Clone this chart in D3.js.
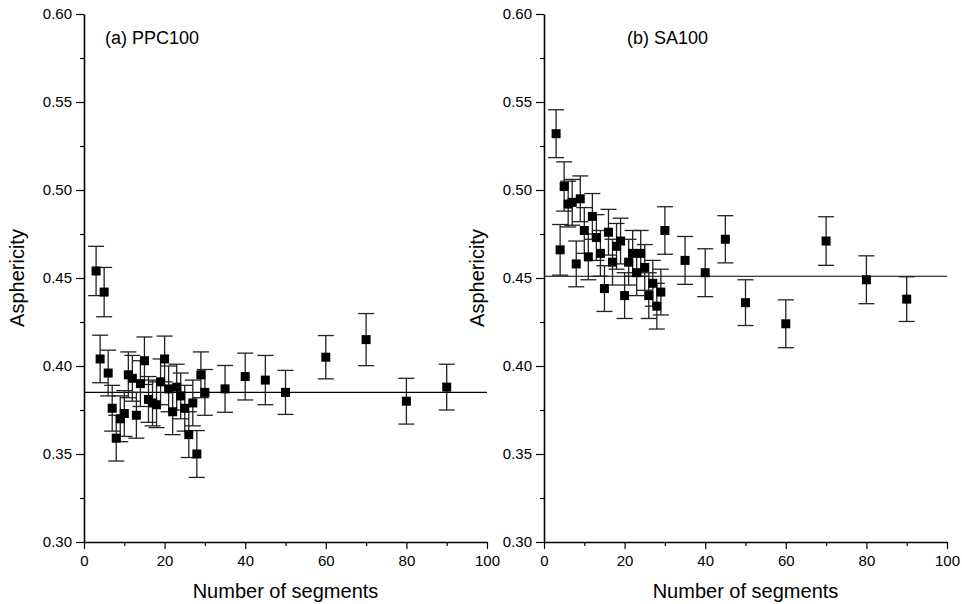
<!DOCTYPE html>
<html>
<head>
<meta charset="utf-8">
<script src="https://cdn.jsdelivr.net/npm/d3@7"></script>
<style>
  body { margin: 0; background: #fff; }
  svg { display: block; font-family: "Liberation Sans", Arial, sans-serif; }
</style>
</head>
<body>
<svg id="chart" width="962" height="604"></svg>
<script>
// Panel (a) PPC100
const segA = [3, 4, 5, 6, 7, 8, 9, 10, 11, 12, 13, 14, 15, 16, 17, 18, 19, 20, 21, 22, 23, 24, 25, 26, 27, 28, 29, 30, 35, 40, 45, 50, 60, 70, 80, 90];
const aspA = [0.454, 0.404, 0.442, 0.396, 0.376, 0.359, 0.370, 0.373, 0.395, 0.393, 0.372, 0.390, 0.403, 0.381, 0.379, 0.378, 0.391, 0.404, 0.387, 0.374, 0.388, 0.383, 0.376, 0.361, 0.379, 0.350, 0.395, 0.385, 0.387, 0.394, 0.392, 0.385, 0.405, 0.415, 0.380, 0.388];
const errA = [0.014, 0.0135, 0.014, 0.013, 0.013, 0.013, 0.013, 0.013, 0.013, 0.013, 0.013, 0.013, 0.0135, 0.013, 0.013, 0.013, 0.013, 0.013, 0.013, 0.013, 0.013, 0.013, 0.013, 0.013, 0.013, 0.0133, 0.013, 0.013, 0.0133, 0.0133, 0.014, 0.0125, 0.0123, 0.0148, 0.013, 0.013];
const meanA = 0.385;

// Panel (b) SA100
const segB = [3, 4, 5, 6, 7, 8, 9, 10, 11, 12, 13, 14, 15, 16, 17, 18, 19, 20, 21, 22, 23, 24, 25, 26, 27, 28, 29, 30, 35, 40, 45, 50, 60, 70, 80, 90];
const aspB = [0.532, 0.466, 0.502, 0.492, 0.493, 0.458, 0.495, 0.477, 0.462, 0.485, 0.473, 0.464, 0.444, 0.476, 0.459, 0.468, 0.471, 0.440, 0.459, 0.464, 0.453, 0.464, 0.456, 0.440, 0.447, 0.434, 0.442, 0.477, 0.460, 0.453, 0.472, 0.436, 0.424, 0.471, 0.449, 0.438];
const errB = [0.0136, 0.0144, 0.014, 0.013, 0.013, 0.013, 0.013, 0.013, 0.013, 0.013, 0.013, 0.013, 0.013, 0.013, 0.013, 0.013, 0.013, 0.013, 0.013, 0.013, 0.013, 0.013, 0.013, 0.013, 0.013, 0.013, 0.013, 0.0135, 0.0136, 0.0136, 0.0134, 0.013, 0.0136, 0.0138, 0.0136, 0.0127];
const meanB = 0.451;

const xTicks = [0, 20, 40, 60, 80, 100];
const yTicks = [0.30, 0.35, 0.40, 0.45, 0.50, 0.55, 0.60];

const svg = d3.select("#chart");
const plotTop = 14, plotBottom = 542;

const panels = [
  { x0: 84, x1: 487, seg: segA, asp: aspA, err: errA, mean: meanA, label: "(a) PPC100", labelX: 105, titleX: 24 },
  { x0: 544, x1: 947, seg: segB, asp: aspB, err: errB, mean: meanB, label: "(b) SA100", labelX: 627, titleX: 484 }
];

panels.forEach(p => {
  const x = d3.scaleLinear().domain([0, 100]).range([p.x0, p.x1]);
  const y = d3.scaleLinear().domain([0.30, 0.60]).range([plotBottom, plotTop]);
  const g = svg.append("g");

  // minor ticks
  g.append("g").attr("transform", `translate(0,${plotBottom})`)
    .call(d3.axisBottom(x).tickValues(d3.range(10, 100, 20)).tickSize(4).tickFormat(""))
    .call(a => a.select(".domain").remove());
  g.append("g").attr("transform", `translate(${p.x0},0)`)
    .call(d3.axisLeft(y).tickValues(d3.range(0.325, 0.6, 0.05)).tickSize(4).tickFormat(""))
    .call(a => a.select(".domain").remove());

  // major axes
  const xAxis = g.append("g").attr("transform", `translate(0,${plotBottom})`)
    .call(d3.axisBottom(x).tickValues(xTicks).tickSize(7).tickSizeOuter(0).tickPadding(6).tickFormat(d3.format("d")));
  const yAxis = g.append("g").attr("transform", `translate(${p.x0},0)`)
    .call(d3.axisLeft(y).tickValues(yTicks).tickSize(8).tickSizeOuter(0).tickPadding(4).tickFormat(d3.format(".2f")));
  [xAxis, yAxis].forEach(a => {
    a.selectAll("text").attr("font-size", 15).attr("fill", "#000").attr("font-family", "Liberation Sans, Arial, sans-serif");
    a.select(".domain").attr("stroke-width", 1.6);
  });
  g.selectAll(".tick line").attr("stroke-width", 1.2);

  // mean line
  g.append("line")
    .attr("x1", x(0)).attr("x2", x(100))
    .attr("y1", y(p.mean)).attr("y2", y(p.mean))
    .attr("stroke", "#000").attr("stroke-width", 1.2);

  const data = p.seg.map((s, i) => ({ s, v: p.asp[i], e: p.err[i] }));

  // error bars
  const eb = g.append("g").attr("stroke", "#222").attr("stroke-width", 1.3);
  eb.selectAll(".v").data(data).enter().append("line")
    .attr("x1", d => x(d.s)).attr("x2", d => x(d.s))
    .attr("y1", d => y(d.v + d.e)).attr("y2", d => y(d.v - d.e));
  eb.selectAll(".t").data(data).enter().append("line")
    .attr("x1", d => x(d.s) - 8).attr("x2", d => x(d.s) + 8)
    .attr("y1", d => y(d.v + d.e)).attr("y2", d => y(d.v + d.e));
  eb.selectAll(".b").data(data).enter().append("line")
    .attr("x1", d => x(d.s) - 8).attr("x2", d => x(d.s) + 8)
    .attr("y1", d => y(d.v - d.e)).attr("y2", d => y(d.v - d.e));

  // markers
  g.selectAll("rect.pt").data(data).enter().append("rect")
    .attr("x", d => x(d.s) - 4.5).attr("y", d => y(d.v) - 4.5)
    .attr("width", 9).attr("height", 9).attr("fill", "#000");

  // labels
  g.append("text").attr("x", p.labelX).attr("y", 44)
    .attr("font-size", 18).text(p.label);
  g.append("text").attr("x", (p.x0 + p.x1) / 2).attr("y", 598)
    .attr("text-anchor", "middle").attr("font-size", 20).text("Number of segments");
  g.append("text")
    .attr("transform", `translate(${p.titleX},${(plotTop + plotBottom) / 2}) rotate(-90)`)
    .attr("text-anchor", "middle").attr("font-size", 20).text("Asphericity");
});
</script>
</body>
</html>
